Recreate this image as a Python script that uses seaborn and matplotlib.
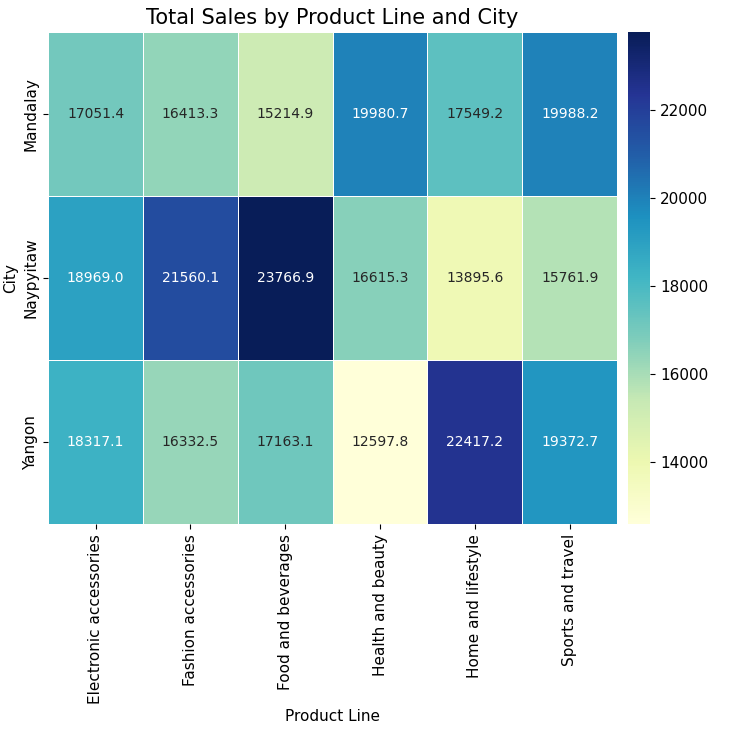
import matplotlib
matplotlib.use("Agg")
import matplotlib.pyplot as plt
import seaborn as sns
import pandas as pd

cities = ["Mandalay", "Naypyitaw", "Yangon"]
product_lines = ["Electronic accessories", "Fashion accessories", "Food and beverages",
                 "Health and beauty", "Home and lifestyle", "Sports and travel"]
mandalay = [17051.4, 16413.3, 15214.9, 19980.7, 17549.2, 19988.2]
naypyitaw = [18969.0, 21560.1, 23766.9, 16615.3, 13895.6, 15761.9]
yangon = [18317.1, 16332.5, 17163.1, 12597.8, 22417.2, 19372.7]

df = pd.DataFrame([mandalay, naypyitaw, yangon], index=cities, columns=product_lines)
df.index.name = "City"
df.columns.name = "Product Line"

fig = plt.figure(figsize=(7.4, 7.29), dpi=100)
ax = fig.add_axes([0.065, 0.281, 0.769, 0.675])
cax = fig.add_axes([0.849, 0.281, 0.030, 0.675])
sns.heatmap(df, annot=True, fmt=".1f", cmap="YlGnBu", linewidths=0.5, linecolor="white",
            ax=ax, cbar_ax=cax, annot_kws={"fontsize": 10})
ax.set_title("Total Sales by Product Line and City", fontsize=15)
ax.set_xlabel("Product Line", fontsize=11)
ax.set_ylabel("City", fontsize=11)
ax.tick_params(axis="both", labelsize=11)
cax.tick_params(labelsize=11)
fig.savefig("out.png", dpi=100)
